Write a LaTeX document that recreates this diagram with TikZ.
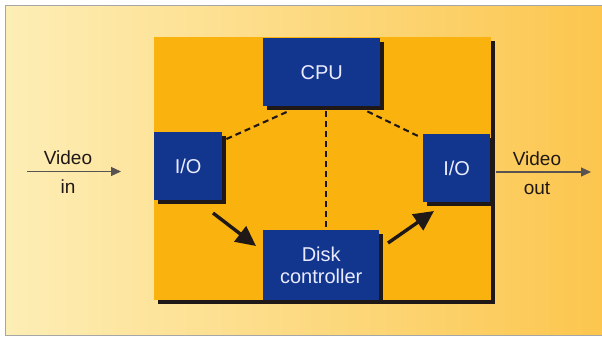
\documentclass[tikz,border=0pt]{standalone}
\usepackage{fontspec}
\setmainfont{Liberation Sans}
\usetikzlibrary{arrows.meta,calc}
\definecolor{boxblue}{RGB}{18,54,142}
\definecolor{panelor}{RGB}{250,178,14}
\definecolor{bgl}{RGB}{253,238,182}
\definecolor{bgr}{RGB}{252,198,78}
\definecolor{ink}{RGB}{32,24,22}
\begin{document}
\begin{tikzpicture}[x=1pt,y=-1pt,
  shadowed/.style={preaction={fill=ink,transform canvas={shift={(4pt,-4pt)}}}},
  blk/.style={shadowed,fill=boxblue,text=white!92!blue,inner sep=0pt,align=center,
    font=\fontsize{20}{21.5}\selectfont,anchor=north west},
  lbl/.style={align=center,text=ink,font=\fontsize{19}{29}\selectfont},
  dashlink/.style={draw=ink,line width=2.1pt,dash pattern=on 6pt off 4pt},
  flow/.style={draw=ink,line width=3.4pt,-{Triangle[length=20pt,width=19pt]}},
  io/.style={draw=ink!75,line width=1.2pt,-{Triangle[length=10pt,width=9pt]}}]
\useasboundingbox (0,0) rectangle (602,338);
\fill[white] (0,0) rectangle (602,338);
\shade[left color=bgl,right color=bgr] (5,5) rectangle (602,335);
\draw[gray!70,line width=0.8pt] (602,5) -- (5,5) -- (5,335) -- (602,335);
% panel
\node[shadowed,fill=panelor,minimum width=337pt,minimum height=263pt,inner sep=0pt,anchor=north west] (panel) at (154,37) {};
% blocks
\node[blk,minimum width=117pt,minimum height=68pt] (cpu) at (263,38) {CPU};
\node[blk,minimum width=68pt,minimum height=68pt] (iol) at (154,132) {I/O};
\node[blk,minimum width=67pt,minimum height=68pt] (ior) at (423,134) {I/O};
\node[blk,minimum width=116pt,minimum height=70pt] (disk) at (263,230) {Disk\\controller};
% dashed links
\draw[dashlink] ($(iol.north east)+(4,7)$) -- ($(cpu.south west)+(25,5)$);
\draw[dashlink,line width=1.6pt] ($(cpu.south)+(4.5,5)$) -- ($(disk.north)+(5,0)$);
\draw[dashlink] ($(cpu.south east)+(-13,5)$) -- ($(ior.north west)+(-3,3)$);
% data flow arrows
\coordinate (fa) at (213,213);
\coordinate (fb) at (256,246);
\coordinate (fc) at (388,243);
\coordinate (fd) at (434,211);
\draw[flow] (fa) -- (fb);
\draw[flow] (fc) -- (fd);
% video in / out
\node[lbl] (vin) at (68,172) {Video\\in};
\node[lbl] (vout) at (537,173) {Video\\out};
\coordinate (via) at (27,171.5);
\coordinate (vib) at (121,171.5);
\coordinate (voa) at (496,172);
\coordinate (vob) at (591,172);
\draw[io] (via) -- (vib);
\draw[io] (voa) -- (vob);
\end{tikzpicture}
\end{document}
